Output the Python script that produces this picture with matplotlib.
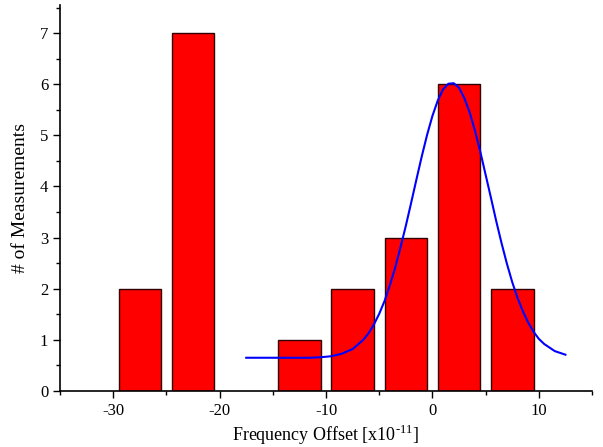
import numpy as np
import matplotlib
matplotlib.use('Agg')
import matplotlib.pyplot as plt
from matplotlib.ticker import MultipleLocator

plt.rcParams['font.family'] = 'Liberation Serif'
plt.rcParams['mathtext.fontset'] = 'custom'
plt.rcParams['mathtext.rm'] = 'Liberation Serif'
plt.rcParams['axes.unicode_minus'] = False

# ── Histogram data ────────────────────────────────
bin_centers = [-27.5, -22.5, -12.5, -7.5, -2.5, 2.5, 7.5]
counts      = [2, 7, 1, 2, 3, 6, 2]

# ── Fit curve ─────────────────────────────────────
fit_x = [-17.5, -16.5, -15.5, -14.5, -13.5, -12.5, -11.5, -10.5, -9.5, -8.5,
         -7.5, -6.5, -6, -5.5, -5, -4.5, -4, -3.5, -3, -2.5, -2, -1.5, -1,
         -0.5, 0, 0.5, 1, 1.5, 2, 2.5, 3, 3.5, 4, 4.5, 5, 5.5, 6, 6.5, 7,
         7.5, 8, 8.5, 9, 9.5, 10, 10.5, 11.5, 12.5]
fit_y = [0.65, 0.65, 0.65, 0.65, 0.65, 0.65, 0.65, 0.66, 0.68, 0.73,
         0.82, 1.00, 1.13, 1.30, 1.51, 1.76, 2.07, 2.41, 2.81, 3.23, 3.68, 4.14, 4.59,
         5.01, 5.38, 5.68, 5.90, 6.01, 6.02, 5.93, 5.73, 5.45, 5.09, 4.68, 4.23, 3.78, 3.32, 2.89, 2.49,
         2.13, 1.82, 1.56, 1.34, 1.16, 1.02, 0.92, 0.78, 0.71]

fig = plt.figure(figsize=(6.03, 4.47), dpi=100)
ax = fig.add_axes([0.0995, 0.1253, 0.8823, 0.8635])

ax.bar(bin_centers, counts, width=4, color='#ff0000', edgecolor='#300000', linewidth=1, zorder=2)
ax.plot(fit_x, fit_y, color='#0000ff', lw=1.5, zorder=3)

ax.set_xlim(-35, 15)
ax.set_ylim(0, 7.55)
ax.xaxis.set_major_locator(MultipleLocator(10))
ax.xaxis.set_minor_locator(MultipleLocator(5))
ax.yaxis.set_major_locator(MultipleLocator(1))
ax.yaxis.set_minor_locator(MultipleLocator(0.5))
ax.tick_params(which='major', direction='out', length=5, width=1, labelsize=12)
ax.tick_params(which='minor', direction='out', length=3, width=1)
for s in ['top', 'right']:
    ax.spines[s].set_visible(False)
for s in ['left', 'bottom']:
    ax.spines[s].set_linewidth(1.2)

ax.set_xlabel('Frequency Offset [x10$^{\\text{-11}}$]', fontsize=13, labelpad=3)
ax.set_ylabel('# of Measurements', fontsize=14, labelpad=8)

fig.savefig('out.png', dpi=100)
